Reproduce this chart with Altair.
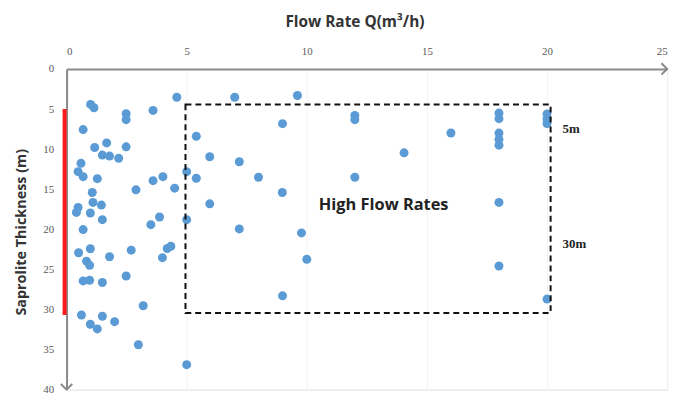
import altair as alt
import pandas as pd

flow = [1.00, 1.14, 4.59, 2.48, 2.48, 3.60, 0.69, 5.40, 1.17, 1.67, 1.49, 1.79, 2.17, 2.48,
        0.60, 0.48, 0.69, 1.28, 2.89, 3.60, 4.01, 4.50, 5.00, 5.40, 1.07, 1.10, 1.45, 0.48,
        0.41, 0.99, 1.49, 0.69, 3.51, 3.87, 5.00, 0.50, 0.99, 0.83, 0.96, 1.79, 2.69, 4.34,
        4.19, 3.99, 0.69, 0.96, 1.49, 2.48, 3.19, 0.62, 1.49, 0.99, 1.28, 2.00, 2.99, 5.00,
        7.00, 9.61, 8.99, 5.96, 7.19, 7.99, 12.0, 8.98, 5.96, 7.19, 9.78, 12.0, 12.0, 10.0,
        8.99, 16.0, 14.05, 18.0, 18.0, 18.0, 18.0, 18.0, 20.0, 20.0, 20.0, 18.0, 18.0, 20.0]
thickness = [4.42, 4.83, 3.52, 5.58, 6.32, 5.17, 7.56, 8.39, 9.79, 9.22, 10.74, 10.87, 11.15, 9.71,
             11.77, 12.81, 13.43, 13.68, 15.08, 13.93, 13.43, 14.87, 12.81, 13.63, 15.41, 16.65, 16.98, 17.27,
             17.89, 17.97, 18.80, 20.04, 19.42, 18.46, 18.80, 22.92, 22.43, 23.97, 24.50, 23.42, 22.60, 22.11,
             22.40, 23.54, 26.44, 26.36, 26.64, 25.82, 29.54, 30.69, 30.85, 31.85, 32.43, 31.52, 34.41, 36.89,
             3.52, 3.31, 6.82, 10.95, 11.57, 13.51, 13.51, 15.41, 16.82, 19.95, 20.45, 5.79, 6.32, 23.75,
             28.30, 7.98, 10.46, 5.5, 6.2, 8.0, 8.8, 9.5, 5.6, 6.2, 6.8, 16.65, 24.58, 28.71]

x_ticks = [0, 5, 10, 15, 20, 25]
y_ticks = [0, 5, 10, 15, 20, 25, 30, 35, 40]

box = {"x": 4.95, "x2": 20.15, "y": 4.43, "y2": 30.45}
red_span = {"x": 0, "y": 5.0, "y2": 30.7}
labels = [
    {"x": 13.2, "y": 17.0, "text": "High Flow Rates", "kind": "main"},
    {"x": 20.65, "y": 7.45, "text": "5m", "kind": "side"},
    {"x": 20.65, "y": 21.9, "text": "30m", "kind": "side"},
]

df = pd.DataFrame({"flow": flow, "thickness": thickness})

xscale = alt.Scale(domain=[0, 25], nice=False, zero=False)
yscale = alt.Scale(domain=[0, 40], reverse=True, nice=False, zero=False)

x_axis = alt.Axis(orient="top", values=x_ticks, ticks=False, grid=True, gridColor="#f3f3f3",
                  gridWidth=1, domainColor="#8a8a8a", domainWidth=2,
                  labelFont="Liberation Serif", labelFontSize=11, labelColor="#595959",
                  labelPadding=13, title="Flow Rate Q(m³/h)", titleFont="Open Sans",
                  titleFontSize=15.5, titleFontWeight="bold", titleColor="#333333",
                  titleX=290, titleY=-48, titleBaseline="middle", titleAlign="center")
y_axis = alt.Axis(orient="left", values=y_ticks, ticks=False, grid=False,
                  domainColor="#8a8a8a", domainWidth=2,
                  labelFont="Liberation Serif", labelFontSize=11, labelColor="#595959",
                  labelPadding=13, title="Saprolite Thickness (m)", titleFont="Open Sans",
                  titleFontSize=14.5, titleFontWeight="bold", titleColor="#333333",
                  titleAngle=-90, titleX=-45, titleY=164, titleBaseline="middle",
                  titleAlign="center")

points = alt.Chart(df).mark_circle(size=82, color="#5B9BD5", opacity=1).encode(
    x=alt.X("flow:Q", scale=xscale, axis=x_axis),
    y=alt.Y("thickness:Q", scale=yscale, axis=y_axis),
)

rect = alt.Chart(pd.DataFrame([box])).mark_rect(
    filled=False, stroke="#111111", strokeWidth=2, strokeDash=[6, 4]
).encode(x=alt.X("x:Q", scale=xscale), x2="x2:Q",
         y=alt.Y("y:Q", scale=yscale), y2="y2:Q")

red = alt.Chart(pd.DataFrame([red_span])).mark_rule(
    color="#ff1a1a", strokeWidth=4, xOffset=-2
).encode(x=alt.X("x:Q", scale=xscale), y=alt.Y("y:Q", scale=yscale), y2="y2:Q")

arrow_r = alt.Chart(pd.DataFrame([{"x": 25, "y": 0}])).mark_point(
    shape="M-1,-1L0,0L-1,1", filled=False, stroke="#8a8a8a", strokeWidth=2, size=130, opacity=1
).encode(x=alt.X("x:Q", scale=xscale), y=alt.Y("y:Q", scale=yscale))

arrow_d = alt.Chart(pd.DataFrame([{"x": 0, "y": 40}])).mark_point(
    shape="M-1,-1L0,0L1,-1", filled=False, stroke="#8a8a8a", strokeWidth=2, size=130, opacity=1
).encode(x=alt.X("x:Q", scale=xscale), y=alt.Y("y:Q", scale=yscale))

ldf = pd.DataFrame(labels)
main_text = alt.Chart(ldf[ldf.kind == "main"]).mark_text(
    font="Open Sans", fontSize=16.5, fontWeight="bold", color="#222222", align="center", baseline="middle"
).encode(x=alt.X("x:Q", scale=xscale), y=alt.Y("y:Q", scale=yscale), text="text:N")

side_text = alt.Chart(ldf[ldf.kind == "side"]).mark_text(
    font="Liberation Serif", fontSize=13, fontWeight="bold", color="#222222", align="left", baseline="middle"
).encode(x=alt.X("x:Q", scale=xscale), y=alt.Y("y:Q", scale=yscale), text="text:N")

chart = alt.layer(points, rect, red, arrow_r, arrow_d, main_text, side_text).properties(
    width=605, height=323,
    autosize=alt.AutoSizeParams(type="none"),
    padding={"left": 59, "top": 60, "right": 16, "bottom": 5},
).configure_view(stroke=None).configure(background="white")

chart.save("out.html", embed_options={"renderer": "svg", "actions": False})
